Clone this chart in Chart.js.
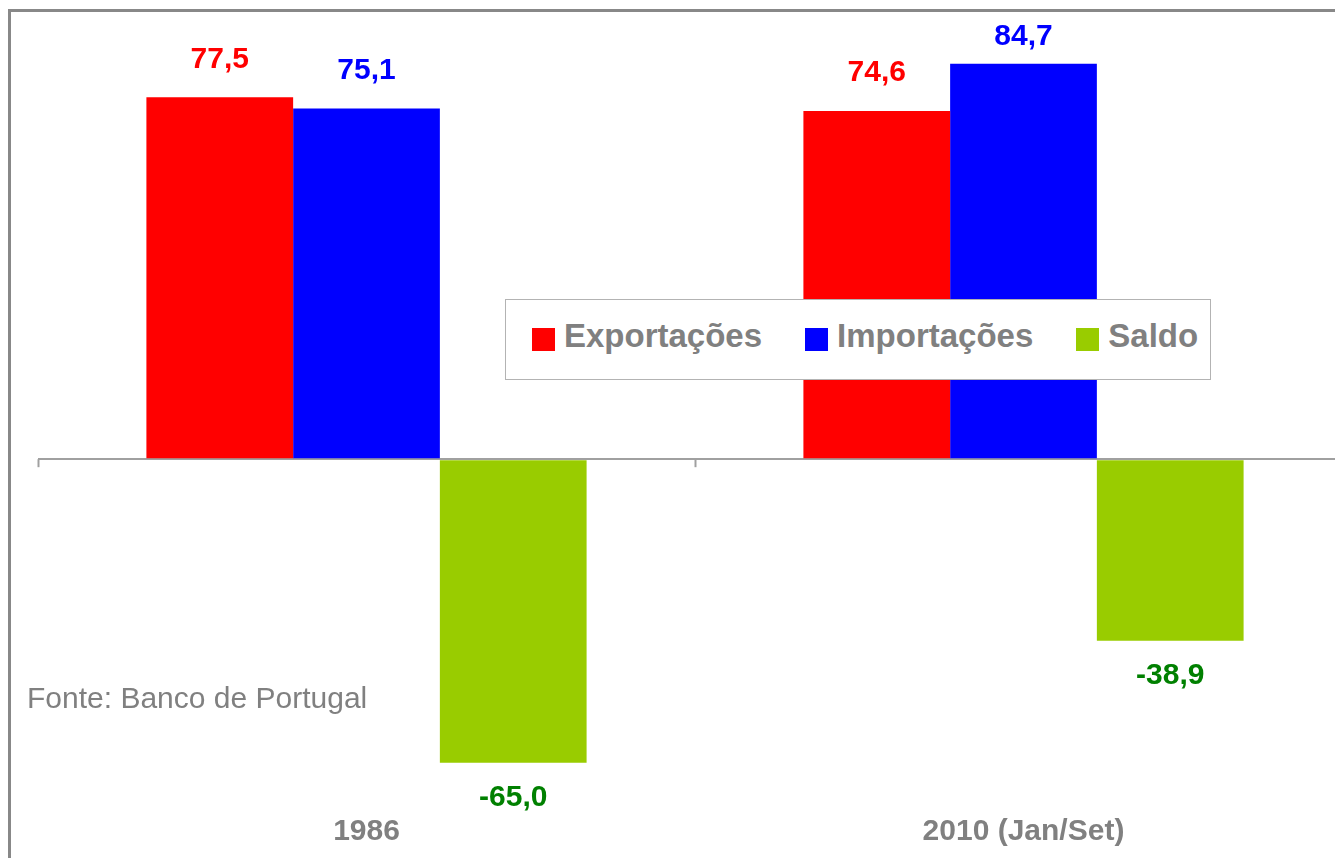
<!DOCTYPE html>
<html>
<head>
<meta charset="utf-8">
<script src="https://cdn.jsdelivr.net/npm/chart.js@4"></script>
<style>
  html, body { margin: 0; padding: 0; background: #fff; overflow: hidden; }
  #wrap { position: relative; width: 1335px; height: 858px; overflow: hidden; }
  #chart { position: absolute; left: 0; top: 0; }
  #legend {
    position: absolute; left: 505px; top: 299px; width: 704px; height: 79px;
    border: 1.5px solid #b3b3b3; background: #fff;
    display: flex; align-items: center; box-sizing: content-box;
    font-family: 'Liberation Sans', Arial, sans-serif; font-weight: bold;
    font-size: 33px; color: #808080;
  }
  #legend .item { display: flex; align-items: center; }
  #legend .box { width: 23px; height: 23px; margin-right: 9px; }
  #legend .txt { position: relative; top: -4px; }
</style>
</head>
<body>
<div id="wrap">
  <canvas id="chart" width="1360" height="858"></canvas>
  <div id="legend"></div>
</div>
<script>
// data
const categories = ['1986', '2010 (Jan/Set)'];
const exportacoes = [77.5, 74.6];
const importacoes = [75.1, 84.7];
const saldo = [-65.0, -38.9];

const font = "'Liberation Sans', Arial, sans-serif";
const axisGrey = '#a0a0a0';
const textGrey = '#808080';

// value labels above / below each bar, decimal comma like the original
const valueLabels = {
  id: 'valueLabels',
  afterDatasetsDraw(chart) {
    const ctx = chart.ctx;
    const top = chart.chartArea.top;
    ctx.save();
    ctx.font = 'bold 30px ' + font;
    ctx.textAlign = 'center';
    ctx.textBaseline = 'middle';
    chart.data.datasets.forEach((ds, i) => {
      const meta = chart.getDatasetMeta(i);
      meta.data.forEach((bar, j) => {
        const v = ds.data[j];
        ctx.fillStyle = ds.labelColor;
        // keep labels inside the plot area, as the original does for 84,7
        const y = v >= 0 ? Math.max(bar.y - 38, top - 2) : bar.y + 35;
        ctx.fillText(v.toFixed(1).replace('.', ','), bar.x, y);
      });
    });
    ctx.restore();
  },
};

// frame, zero-line tick marks and source note
const decorations = {
  id: 'decorations',
  beforeDraw(chart) {
    const ctx = chart.ctx;
    ctx.save();
    ctx.strokeStyle = '#888888';
    ctx.lineWidth = 3;
    ctx.beginPath();
    ctx.moveTo(9.5, chart.height);
    ctx.lineTo(9.5, 10.5);
    ctx.lineTo(chart.width, 10.5);
    ctx.stroke();
    ctx.restore();
  },
  afterDraw(chart) {
    const ctx = chart.ctx;
    const area = chart.chartArea;
    const y0 = chart.scales.y.getPixelForValue(0);
    const step = area.width / categories.length;
    ctx.save();
    ctx.strokeStyle = axisGrey;
    ctx.lineWidth = 2;
    for (let i = 0; i <= categories.length; i++) {
      const x = Math.round(area.left + i * step) + 0.5;
      ctx.beginPath();
      ctx.moveTo(x, y0);
      ctx.lineTo(x, y0 + 8);
      ctx.stroke();
    }
    ctx.fillStyle = textGrey;
    ctx.font = '30px ' + font;
    ctx.textAlign = 'left';
    ctx.textBaseline = 'alphabetic';
    ctx.fillText('Fonte: Banco de Portugal', 27, 708);
    ctx.restore();
  },
};

const chart = new Chart(document.getElementById('chart'), {
  type: 'bar',
  data: {
    labels: categories,
    datasets: [
      { label: 'Exportações', data: exportacoes, backgroundColor: '#FF0000', labelColor: '#FF0000' },
      { label: 'Importações', data: importacoes, backgroundColor: '#0000FF', labelColor: '#0000FF' },
      { label: 'Saldo', data: saldo, backgroundColor: '#99CC00', labelColor: '#008000' },
    ],
  },
  options: {
    responsive: false,
    animation: false,
    events: [],
    categoryPercentage: 0.67,
    barPercentage: 1.0,
    layout: { padding: { left: 38, right: 8, top: 39, bottom: 8 } },
    plugins: {
      legend: { display: false },
      tooltip: { enabled: false },
    },
    scales: {
      x: {
        grid: { display: false, drawTicks: false },
        border: { display: false },
        ticks: {
          padding: 0,
          color: textGrey,
          font: { family: font, size: 30, weight: 'bold' },
        },
      },
      y: {
        min: -76,
        max: 90,
        border: { display: false },
        ticks: { display: false, stepSize: 20 },
        grid: {
          drawTicks: false,
          lineWidth: 2,
          color: (c) => (c.tick && c.tick.value === 0 ? axisGrey : 'transparent'),
        },
      },
    },
  },
  plugins: [valueLabels, decorations],
});

// html legend built from the datasets
const legend = document.getElementById('legend');
chart.data.datasets.forEach((ds, i) => {
  const item = document.createElement('div');
  item.className = 'item';
  item.style.marginLeft = i === 0 ? '26px' : '43px';
  const box = document.createElement('span');
  box.className = 'box';
  box.style.background = ds.backgroundColor;
  const txt = document.createElement('span');
  txt.className = 'txt';
  txt.textContent = ds.label;
  item.appendChild(box);
  item.appendChild(txt);
  legend.appendChild(item);
});
</script>
</body>
</html>
